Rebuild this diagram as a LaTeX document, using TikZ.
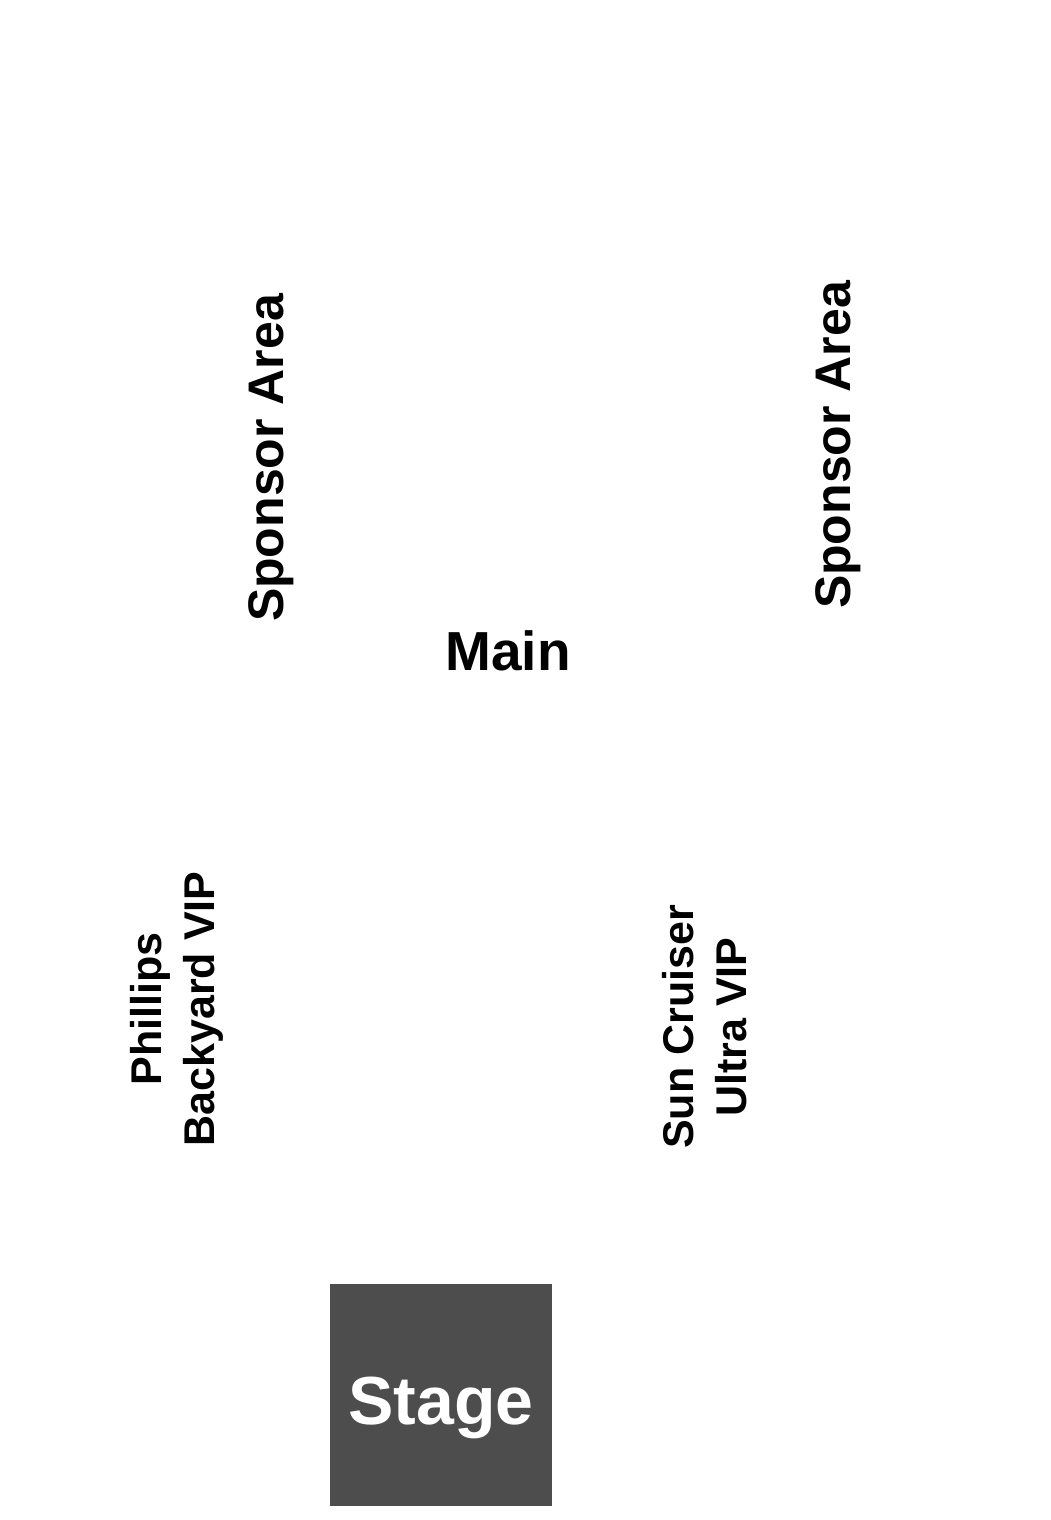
\documentclass[tikz,border=0pt]{standalone}
\usepackage{fontspec}
\setmainfont{Liberation Sans}
\definecolor{stagegray}{HTML}{4D4D4D}

\begin{document}
\begin{tikzpicture}[x=1pt,y=1pt,
  area/.style={font=\bfseries\fontsize{50}{60}\selectfont, rotate=90, inner sep=0pt},
  vip/.style={font=\bfseries\fontsize{43}{53}\selectfont, rotate=90, align=center, inner sep=0pt}]
\useasboundingbox (0,0) rectangle (1050,1520);
\node (sponsorleft) [area] at (271,1062) {Sponsor Area};
\node (sponsorright) [area] at (838,1075) {Sponsor Area};
\node (main) [inner sep=0pt, font=\bfseries\fontsize{55}{66}\selectfont] at (508,869) {Main};
\node (phillips) [vip] at (177,511) {Phillips\\Backyard VIP};
\node (suncruiser) [vip] at (705,493) {Sun Cruiser\\Ultra VIP};
\node (stage) [fill=stagegray, minimum width=222, minimum height=222, inner sep=0pt] at (441,125) {};
\node (stagelabel) [text=white, inner sep=0pt, anchor=base, font=\bfseries\fontsize{68}{80}\selectfont] at ([yshift=-30]stage.center) {Stage};
\end{tikzpicture}
\end{document}
